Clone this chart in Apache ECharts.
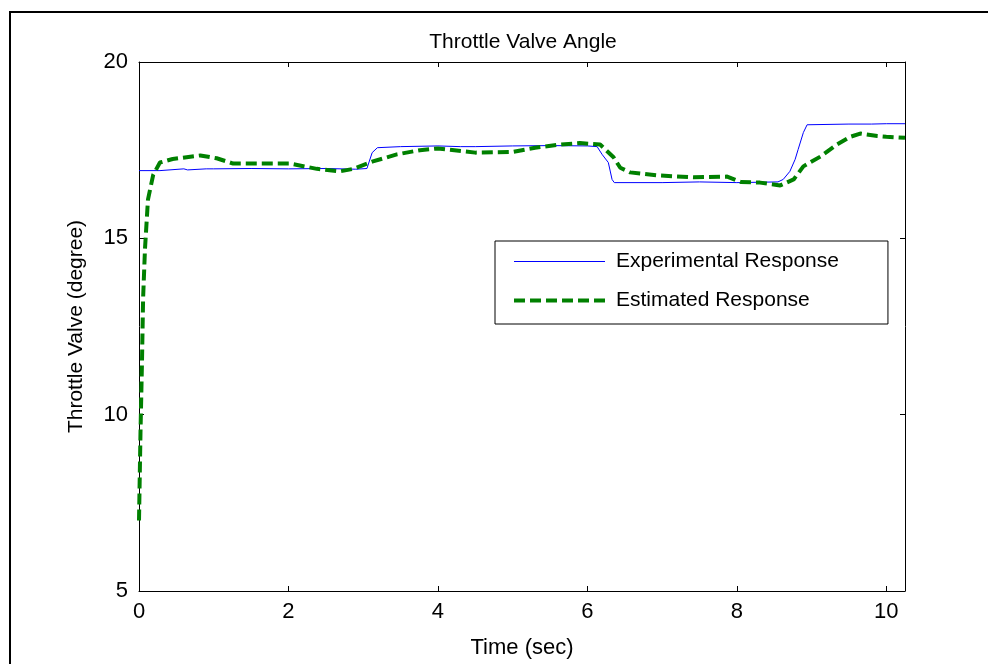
<!DOCTYPE html>
<html>
<head>
<meta charset="utf-8">
<script src="https://cdn.jsdelivr.net/npm/echarts@6/dist/echarts.min.js"></script>
<style>
html, body { margin: 0; padding: 0; background: #fff; }
#main { width: 988px; height: 664px; }
</style>
</head>
<body>
<div id="main"></div>
<script>
// experimental response (blue)
const expTime = [0, 0.28, 0.29, 0.6, 0.62, 0.65, 0.9, 0.92, 1.0, 1.5, 2.0, 2.5, 2.9, 3.05, 3.12, 3.19,
  3.5, 4.0, 4.3, 4.32, 4.5, 5.0, 5.5, 6.0, 6.13, 6.2, 6.28, 6.33, 6.36, 7.0, 7.5, 8.0, 8.55,
  8.62, 8.71, 8.78, 8.82, 8.89, 8.94, 9.5, 9.8, 9.82, 10.0, 10.25];
const expValue = [16.92, 16.92, 16.97, 16.97, 17.02, 16.94, 16.97, 16.92, 16.97, 16.98, 16.97, 16.98, 16.96, 16.98, 17.43, 17.57,
  17.6, 17.62, 17.6, 17.55, 17.6, 17.62, 17.63, 17.62, 17.6, 17.37, 17.15, 16.67, 16.58, 16.58, 16.6, 16.58, 16.6,
  16.67, 16.9, 17.24, 17.52, 18.0, 18.22, 18.24, 18.24, 18.2, 18.25, 18.25];

// estimated response (green dashed)
const estTime = [0, 0.02, 0.04, 0.055, 0.08, 0.12, 0.19, 0.28, 0.45, 0.82, 1.04, 1.26, 2.02, 2.38, 2.69, 2.87,
  3.13, 3.45, 3.76, 4.0, 4.5, 5.0, 5.3, 5.64, 5.9, 6.17, 6.35, 6.44, 6.57, 6.97, 7.42, 7.87,
  8.05, 8.31, 8.58, 8.76, 8.89, 9.12, 9.34, 9.52, 9.65, 9.88, 10.0, 10.25];
const estValue = [7.0, 9.5, 11.5, 13.3, 14.7, 16.1, 16.8, 17.15, 17.25, 17.35, 17.27, 17.12, 17.12, 16.97, 16.9, 16.97,
  17.18, 17.38, 17.5, 17.55, 17.43, 17.45, 17.57, 17.66, 17.7, 17.66, 17.3, 17.0, 16.87, 16.78, 16.73, 16.75,
  16.6, 16.58, 16.5, 16.67, 17.04, 17.32, 17.66, 17.88, 17.97, 17.9, 17.88, 17.85];

const xTicks = [0, 2, 4, 6, 8, 10];
const yTicks = [5, 10, 15, 20];

const font = 'Liberation Sans, Arial, sans-serif';

let chartDom = document.getElementById('main');
let myChart = echarts.init(chartDom);

const axisCommon = {
  type: 'value',
  axisLine: { show: true, onZero: false, lineStyle: { color: '#000', width: 1 } },
  axisTick: { show: true, inside: true, length: 5, lineStyle: { color: '#000', width: 1 } },
  splitLine: { show: false }
};

let option = {
  animation: false,
  backgroundColor: '#fff',
  title: {
    text: 'Throttle Valve Angle',
    left: 518,
    top: 27,
    textAlign: 'center',
    textStyle: { fontFamily: font, fontSize: 21, fontWeight: 'normal', color: '#000' }
  },
  grid: { left: 139, top: 62, right: 83, bottom: 70 },
  legend: {
    orient: 'vertical',
    left: 495,
    top: 241,
    padding: [10, 49, 13, 17],
    itemWidth: 91,
    itemHeight: 21,
    itemGap: 18,
    itemTextGap: 11,
    borderColor: '#000',
    borderWidth: 1,
    backgroundColor: '#fff',
    itemStyle: { opacity: 0 },
    textStyle: { fontFamily: font, fontSize: 21, color: '#000', padding: [0, 0, 0, 6] },
    data: [
      { name: 'Experimental Response', lineStyle: { color: '#0000ff', width: 1.2 } },
      { name: 'Estimated Response', lineStyle: { color: '#008000', width: 4, type: [11, 5] } }
    ]
  },
  xAxis: [
    Object.assign({}, axisCommon, {
      min: 0, max: 10.25, interval: 2,
      position: 'bottom',
      name: 'Time (sec)',
      nameLocation: 'middle',
      nameGap: 46,
      nameTextStyle: { fontFamily: font, fontSize: 22, color: '#000' },
      axisLabel: {
        margin: 10, fontFamily: font, fontSize: 22, color: '#000',
        showMaxLabel: false,
        formatter: v => (xTicks.indexOf(v) >= 0 ? String(v) : '')
      }
    }),
    Object.assign({}, axisCommon, {
      min: 0, max: 10.25, interval: 2,
      position: 'top',
      axisLabel: { show: false }
    })
  ],
  yAxis: [
    Object.assign({}, axisCommon, {
      min: 5, max: 20, interval: 5,
      position: 'left',
      name: 'Throttle Valve (degree)',
      nameLocation: 'middle',
      nameGap: 52,
      nameTextStyle: { fontFamily: font, fontSize: 21, color: '#000' },
      axisLabel: {
        margin: 11, fontFamily: font, fontSize: 22, color: '#000',
        formatter: v => (yTicks.indexOf(v) >= 0 ? String(v) : '')
      }
    }),
    Object.assign({}, axisCommon, {
      min: 5, max: 20, interval: 5,
      position: 'right',
      axisLabel: { show: false }
    })
  ],
  graphic: [
    {
      type: 'rect',
      shape: { x: 10, y: 12, width: 1000, height: 700 },
      style: { fill: null, stroke: '#000', lineWidth: 2 },
      silent: true
    }
  ],
  series: [
    {
      name: 'Experimental Response',
      type: 'line',
      xAxisIndex: 0,
      yAxisIndex: 0,
      symbol: 'none',
      data: expTime.map((t, i) => [t, expValue[i]]),
      lineStyle: { color: '#0000ff', width: 1 },
      itemStyle: { color: '#0000ff' },
      z: 2
    },
    {
      name: 'Estimated Response',
      type: 'line',
      xAxisIndex: 0,
      yAxisIndex: 0,
      symbol: 'none',
      data: estTime.map((t, i) => [t, estValue[i]]),
      lineStyle: { color: '#008000', width: 4, type: [11, 5] },
      itemStyle: { color: '#008000' },
      z: 3
    }
  ]
};

option && myChart.setOption(option);
</script>
</body>
</html>
